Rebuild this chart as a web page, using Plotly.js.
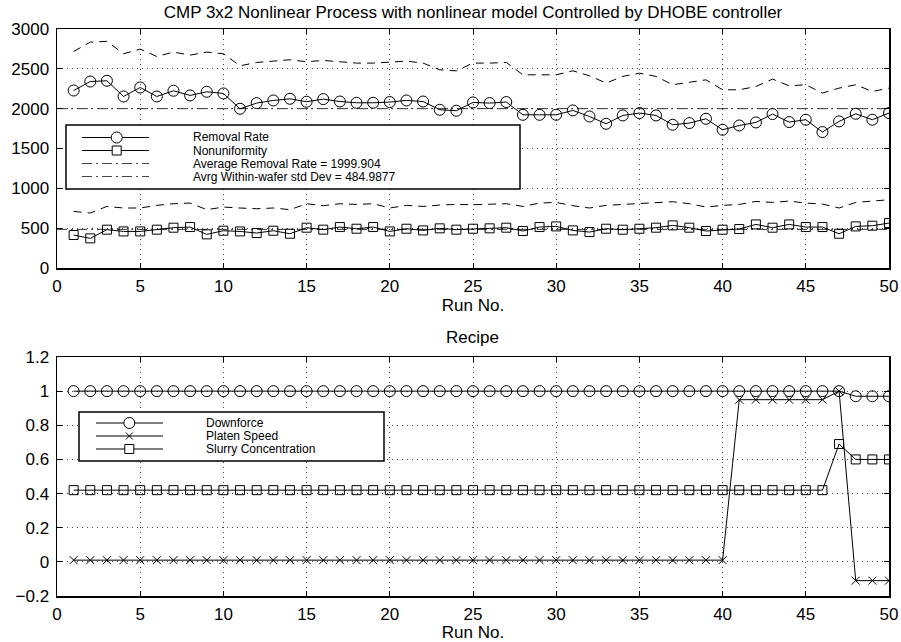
<!DOCTYPE html>
<html>
<head>
<meta charset="utf-8">
<script src="https://cdn.plot.ly/plotly-3.0.1.min.js"></script>
<style>html,body{margin:0;padding:0;background:#fff;}#chart{width:901px;height:642px;}</style>
</head>
<body>
<div id="chart"></div>
<script>
// ---------------- DATA ----------------
const runs = [1,2,3,4,5,6,7,8,9,10,11,12,13,14,15,16,17,18,19,20,21,22,23,24,25,26,27,28,29,30,31,32,33,34,35,36,37,38,39,40,41,42,43,44,45,46,47,48,49,50];
const removalRate = [2228,2341,2350,2153,2266,2153,2225,2166,2212,2191,1999,2070,2103,2124,2087,2120,2090,2074,2074,2083,2103,2090,1986,1974,2078,2070,2083,1923,1923,1923,1978,1902,1810,1915,1945,1915,1798,1819,1873,1735,1789,1827,1932,1832,1861,1706,1840,1936,1861,1945];
const nonuniformity = [414,372,481,459,459,481,506,514,422,468,459,439,468,430,506,481,514,493,514,459,493,472,498,481,493,498,506,464,514,522,472,451,493,481,493,506,535,506,464,481,489,547,506,547,514,514,430,522,531,564];
const upperBand = [2718,2835,2845,2689,2748,2655,2710,2672,2710,2689,2538,2580,2597,2614,2589,2605,2589,2572,2572,2580,2597,2572,2488,2475,2572,2572,2580,2425,2425,2425,2475,2413,2321,2405,2446,2405,2300,2329,2362,2237,2237,2278,2371,2287,2300,2196,2258,2300,2216,2258];
const lowerBand = [710,690,773,753,753,786,807,815,732,765,753,744,753,732,807,782,807,798,807,753,786,773,790,798,794,798,807,773,815,823,782,753,786,798,807,823,832,807,765,786,798,836,823,840,815,803,753,823,836,857];
const avgX = [0,50];
const avgRemovalRate = [1999.904,1999.904];
const avgStdDev = [484.9877,484.9877];

const downforce = [1,1,1,1,1,1,1,1,1,1,1,1,1,1,1,1,1,1,1,1,1,1,1,1,1,1,1,1,1,1,1,1,1,1,1,1,1,1,1,1,1,1,1,1,1,1,1.0,0.97,0.97,0.97];
const platenSpeed = [0.01,0.01,0.01,0.01,0.01,0.01,0.01,0.01,0.01,0.01,0.01,0.01,0.01,0.01,0.01,0.01,0.01,0.01,0.01,0.01,0.01,0.01,0.01,0.01,0.01,0.01,0.01,0.01,0.01,0.01,0.01,0.01,0.01,0.01,0.01,0.01,0.01,0.01,0.01,0.01,0.95,0.95,0.95,0.95,0.95,0.95,1.0,-0.11,-0.11,-0.11];
const slurryConc = [0.42,0.42,0.42,0.42,0.42,0.42,0.42,0.42,0.42,0.42,0.42,0.42,0.42,0.42,0.42,0.42,0.42,0.42,0.42,0.42,0.42,0.42,0.42,0.42,0.42,0.42,0.42,0.42,0.42,0.42,0.42,0.42,0.42,0.42,0.42,0.42,0.42,0.42,0.42,0.42,0.42,0.42,0.42,0.42,0.42,0.42,0.69,0.60,0.60,0.60];

const topTitle = 'CMP 3x2 Nonlinear Process with nonlinear model Controlled by DHOBE controller';
const bottomTitle = 'Recipe';
const xTitle = 'Run No.';
const topLegend = ['Removal Rate','Nonuniformity','Average Removal Rate = 1999.904','Avrg Within-wafer std Dev = 484.9877'];
const bottomLegend = ['Downforce','Platen Speed','Slurry Concentration'];

// ---------------- STYLE ----------------
const FONT = 'Liberation Sans, Arial, Helvetica, sans-serif';
const W = 901, H = 642;
const fx = p => p / W;
const fy = p => 1 - p / H;
const BLACK = '#000';
const DASHDOT = '10px,4px,2px,4px';
const DASHED = '8px,6px';
const TXT = 17;

const traces = [
  {x: runs, y: upperBand, xaxis:'x', yaxis:'y', mode:'lines', line:{color:BLACK, width:1, dash:DASHED}, showlegend:false, name:'upper'},
  {x: runs, y: lowerBand, xaxis:'x', yaxis:'y', mode:'lines', line:{color:BLACK, width:1, dash:DASHED}, showlegend:false, name:'lower'},
  {x: avgX, y: avgRemovalRate, xaxis:'x', yaxis:'y', mode:'lines', line:{color:'#333', width:1, dash:DASHDOT}, showlegend:false, name:topLegend[2]},
  {x: avgX, y: avgStdDev, xaxis:'x', yaxis:'y', mode:'lines', line:{color:'#333', width:1, dash:DASHDOT}, showlegend:false, name:topLegend[3]},
  {x: runs, y: removalRate, xaxis:'x', yaxis:'y', mode:'lines+markers', line:{color:BLACK, width:1}, marker:{symbol:'circle-open', size:11, color:BLACK, line:{width:1, color:BLACK}}, showlegend:false, name:topLegend[0]},
  {x: runs, y: nonuniformity, xaxis:'x', yaxis:'y', mode:'lines+markers', line:{color:BLACK, width:1}, marker:{symbol:'square-open', size:9, color:BLACK, line:{width:1, color:BLACK}}, showlegend:false, name:topLegend[1]},
  {x: runs, y: downforce, xaxis:'x2', yaxis:'y2', mode:'lines+markers', line:{color:BLACK, width:1}, marker:{symbol:'circle-open', size:11, color:BLACK, line:{width:1, color:BLACK}}, showlegend:false, name:bottomLegend[0]},
  {x: runs, y: platenSpeed, xaxis:'x2', yaxis:'y2', mode:'lines+markers', line:{color:BLACK, width:1}, marker:{symbol:'x-thin-open', size:8, color:BLACK, line:{width:1, color:BLACK}}, showlegend:false, name:bottomLegend[1]},
  {x: runs, y: slurryConc, xaxis:'x2', yaxis:'y2', mode:'lines+markers', line:{color:BLACK, width:1}, marker:{symbol:'square-open', size:9, color:BLACK, line:{width:1, color:BLACK}}, showlegend:false, name:bottomLegend[2]}
];

const axisBase = {
  showline:true, linecolor:BLACK, linewidth:1.5, mirror:'ticks',
  ticks:'inside', ticklen:5, tickwidth:1, tickcolor:BLACK,
  showgrid:true, gridcolor:'#444', gridwidth:1, griddash:'1px,4px',
  zeroline:false, tickfont:{family:FONT, size:TXT, color:BLACK},
  fixedrange:true
};
const xdom = [fx(57), fx(889)];

const layout = {
  width: W, height: H,
  margin:{l:0, r:0, t:0, b:0},
  paper_bgcolor:'#fff', plot_bgcolor:'#fff',
  font:{family:FONT, color:BLACK},
  showlegend:false,
  title:{text: topTitle, font:{family:FONT, size:TXT, color:BLACK}, xref:'paper', yref:'paper', x:fx(473), xanchor:'center', y:fy(12), yanchor:'middle'},
  xaxis: Object.assign({}, axisBase, {domain:xdom, anchor:'y', range:[0,50], dtick:5, tick0:0, ticklabelstandoff:2,
    title:{text:xTitle, font:{family:FONT, size:TXT, color:BLACK}, standoff:1}}),
  yaxis: Object.assign({}, axisBase, {domain:[fy(268), fy(29)], anchor:'x', range:[0,3000], dtick:500, tick0:0, ticklabelstandoff:3}),
  xaxis2: Object.assign({}, axisBase, {domain:xdom, anchor:'y2', range:[0,50], dtick:5, tick0:0, ticklabelstandoff:2,
    title:{text:xTitle, font:{family:FONT, size:TXT, color:BLACK}, standoff:1}}),
  yaxis2: Object.assign({}, axisBase, {domain:[fy(596), fy(357)], anchor:'x2', range:[-0.2,1.2], dtick:0.2, tick0:0, ticklabelstandoff:3}),
  shapes: [],
  annotations: [
    {text: bottomTitle, xref:'paper', yref:'paper', x:fx(473), y:fy(337), xanchor:'center', yanchor:'middle', showarrow:false, font:{family:FONT, size:TXT, color:BLACK}}
  ]
};

// ---------- manual MATLAB-style legends ----------
function addLegend(box, entries, sampleX0, sampleX1, markerX, textX) {
  layout.shapes.push({type:'rect', xref:'paper', yref:'paper', x0:fx(box[0]), x1:fx(box[1]), y0:fy(box[3]), y1:fy(box[2]),
    fillcolor:'#fff', line:{color:BLACK, width:1.5}, layer:'above'});
  entries.forEach(e => {
    const yc = fy(e.y);
    layout.shapes.push({type:'line', xref:'paper', yref:'paper', x0:fx(sampleX0), x1:fx(sampleX1), y0:yc, y1:yc,
      line:{color:e.lineColor || BLACK, width:1, dash:e.dash || 'solid'}, layer:'above'});
    const m = e.marker;
    if (m === 'circle' || m === 'square') {
      const r = m === 'circle' ? 5.5 : 4.5;
      layout.shapes.push({type: m === 'circle' ? 'circle' : 'rect', xref:'paper', yref:'paper', xsizemode:'pixel', ysizemode:'pixel',
        xanchor:fx(markerX), yanchor:yc, x0:-r, x1:r, y0:-r, y1:r, fillcolor:'#fff', line:{color:BLACK, width:1}, layer:'above'});
    } else if (m === 'x') {
      [[-3.5,-3.5,3.5,3.5],[-3.5,3.5,3.5,-3.5]].forEach(d => layout.shapes.push({type:'line', xref:'paper', yref:'paper', xsizemode:'pixel', ysizemode:'pixel',
        xanchor:fx(markerX), yanchor:yc, x0:d[0], y0:d[1], x1:d[2], y1:d[3], line:{color:BLACK, width:1}, layer:'above'}));
    }
    layout.annotations.push({text:e.text, xref:'paper', yref:'paper', x:fx(textX), y:yc, xanchor:'left', yanchor:'middle',
      showarrow:false, font:{family:FONT, size:12, color:BLACK}});
  });
}

addLegend([66,520,125,189], [
  {text:topLegend[0], y:137.5, marker:'circle'},
  {text:topLegend[1], y:150.5, marker:'square'},
  {text:topLegend[2], y:163.5, dash:DASHDOT, lineColor:'#444'},
  {text:topLegend[3], y:176.5, dash:DASHDOT, lineColor:'#444'}
], 82, 149, 116.7, 191);

addLegend([79,384,412,461], [
  {text:bottomLegend[0], y:423, marker:'circle'},
  {text:bottomLegend[1], y:436, marker:'x'},
  {text:bottomLegend[2], y:449, marker:'square'}
], 96, 163, 129.3, 204);

Plotly.newPlot('chart', traces, layout, {staticPlot:true, displayModeBar:false});
</script>
</body>
</html>
